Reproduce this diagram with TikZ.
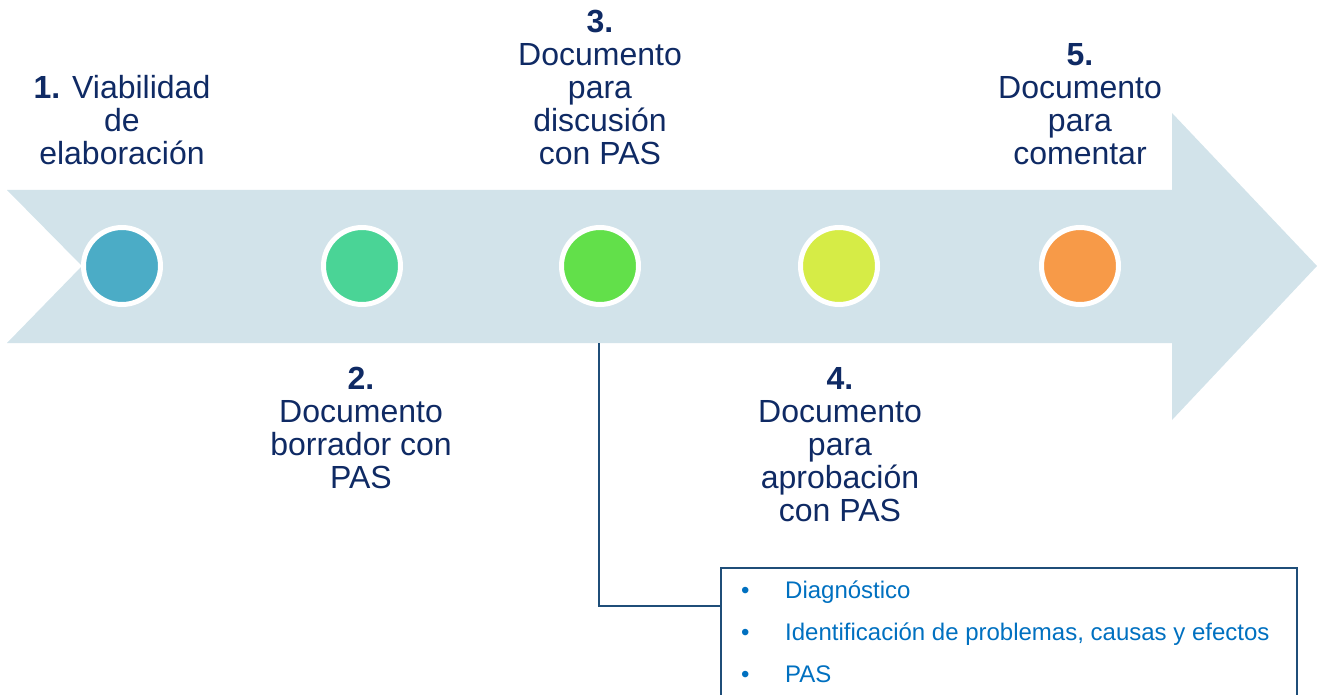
\documentclass[tikz,border=0pt]{standalone}
\usepackage{fontspec}
\setmainfont{Liberation Sans}
\definecolor{arrowfill}{HTML}{D2E3EA}
\definecolor{navytext}{HTML}{0F2A64}
\definecolor{linecol}{HTML}{1F4E79}
\definecolor{bultext}{HTML}{0070C0}
\definecolor{cA}{HTML}{4BACC6}
\definecolor{cB}{HTML}{4AD496}
\definecolor{cC}{HTML}{62E04A}
\definecolor{cD}{HTML}{D6EC46}
\definecolor{cE}{HTML}{F79A48}
\tikzset{
  dot/.style={circle, draw=white, line width=5pt, minimum size=77pt, inner sep=0pt},
  lbl/.style={align=center, inner sep=0pt, text=navytext, font=\fontsize{32}{33}\selectfont},
  bul/.style={anchor=base west, inner sep=0pt, text=bultext, font=\fontsize{24}{28}\selectfont},
  conn/.style={draw=linecol, line width=2pt}
}
\begin{document}
\begin{tikzpicture}[x=1pt, y=-1pt]
\useasboundingbox (0,0) rectangle (1317,695);
% arrow
\fill[arrowfill] (7,190) -- (1172,190) -- (1172,113) -- (1317,266) -- (1172,420) -- (1172,343) -- (7,343) -- (82,266) -- cycle;
% circles
\node[dot, fill=cA] (c1) at (122,266) {};
\node[dot, fill=cB] (c2) at (362,266) {};
\node[dot, fill=cC] (c3) at (600,266) {};
\node[dot, fill=cD] (c4) at (839,266) {};
\node[dot, fill=cE] (c5) at (1080,266) {};
% labels
\node[lbl, anchor=south] (l1) at (122,165) {\textbf{1.} Viabilidad\\de\\elaboración};
\node[lbl, anchor=south] (l3) at (600,165) {\textbf{3.}\\Documento\\para\\discusión\\con PAS};
\node[lbl, anchor=south] (l5) at (1080,165) {\textbf{5.}\\Documento\\para\\comentar};
\node[lbl, anchor=north] (l2) at (361,367) {\textbf{2.}\\Documento\\borrador con\\PAS};
\node[lbl, anchor=north] (l4) at (840,367) {\textbf{4.}\\Documento\\para\\aprobación\\con PAS};
% box
\node[conn, draw, rectangle, anchor=north west, minimum width=576pt, minimum height=132pt, inner sep=0pt] (box) at (720,566.5) {};
\coordinate (j) at (599,343);
\coordinate (k) at (720,606);
\draw[conn] (j) |- (k);
% bullets
\node[bul] (b1) at (741,598) {•};
\node[bul] (t1) at (785,598) {Diagnóstico};
\node[bul] (b2) at (741,640) {•};
\node[bul] (t2) at (785,640) {Identificación de problemas, causas y efectos};
\node[bul] (b3) at (741,682) {•};
\node[bul] (t3) at (785,682) {PAS};
\end{tikzpicture}
\end{document}
